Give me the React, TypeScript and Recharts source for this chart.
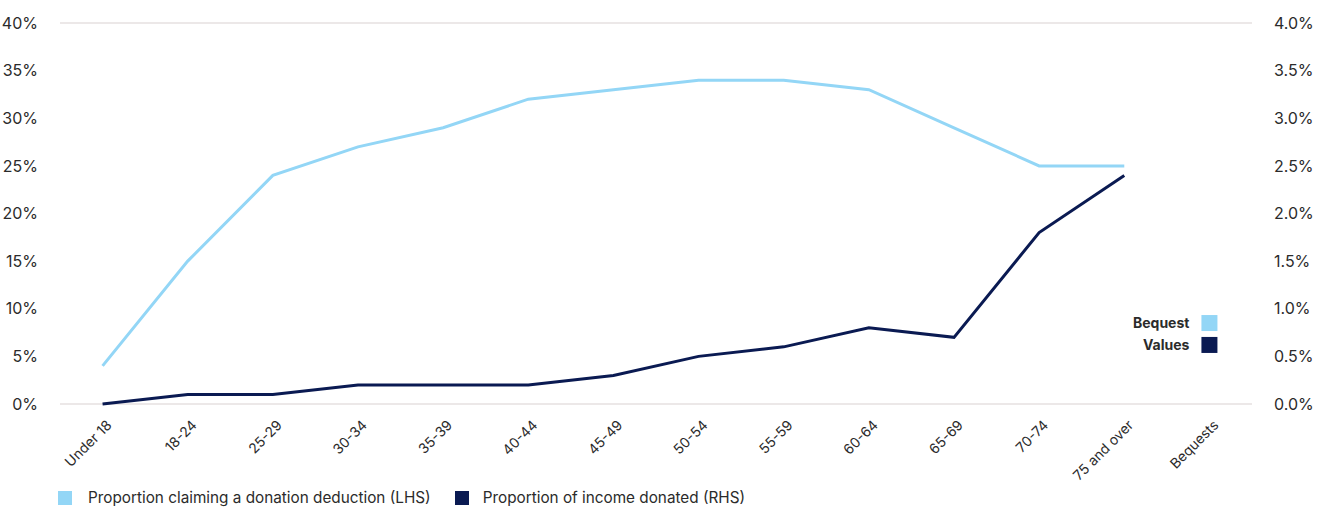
import {
  ComposedChart,
  Line,
  XAxis,
  YAxis,
  CartesianGrid,
  LabelList,
} from 'recharts';

const categories = [
  'Under 18', '18-24', '25-29', '30-34', '35-39', '40-44', '45-49',
  '50-54', '55-59', '60-64', '65-69', '70-74', '75 and over', 'Bequests',
];
// proportion claiming a donation deduction, % (LHS)
const claiming = [4, 15, 24, 27, 29, 32, 33, 34, 34, 33, 29, 25, 25, null];
// proportion of income donated, % (RHS)
const donated = [0, 0.1, 0.1, 0.2, 0.2, 0.2, 0.3, 0.5, 0.6, 0.8, 0.7, 1.8, 2.4, null];
// bequest values shown as squares at the last category
const bequestClaiming = 8.5;
const bequestDonated = 0.62;

const leftTicks = [0, 5, 10, 15, 20, 25, 30, 35, 40];
const rightTicks = [0, 0.5, 1, 1.5, 2, 2.5, 3, 3.5, 4];

const LIGHT = '#93d6f6';
const DARK = '#0a1a52';
const TEXT = '#2b2b2b';
const FONT = 'Inter, "Noto Sans", sans-serif';

const data = categories.map((name, i) => ({
  name,
  claiming: claiming[i],
  donated: donated[i],
  bqClaiming: name === 'Bequests' ? bequestClaiming : null,
  bqDonated: name === 'Bequests' ? bequestDonated : null,
}));

function XTick(props: any) {
  const { x, y, payload } = props;
  return (
    <text
      x={x + 10}
      y={y + 14}
      transform={`rotate(-45, ${x + 10}, ${y + 14})`}
      textAnchor="end"
      fill={TEXT}
      fontSize={14}
      fontFamily={FONT}
    >
      {payload.value}
    </text>
  );
}

function square(color: string) {
  return (p: any) =>
    p.value == null || p.cx == null || p.cy == null ? null : (
      <rect key={p.index} x={p.cx - 8} y={p.cy - 8} width={16} height={16} fill={color} />
    );
}

function bqLabel(text: string) {
  return (p: any) =>
    p.value == null ? null : (
      <text x={p.x - 20} y={p.y + 5} textAnchor="end" fontSize={14} fontWeight={700} fill={TEXT} fontFamily={FONT}>
        {text}
      </text>
    );
}

export default function App() {
  return (
    <div style={{ width: 1321, height: 507, position: 'relative', fontFamily: FONT }}>
      <style>{'body{margin:0}'}</style>
      <ComposedChart
        width={1321}
        height={507}
        data={data}
        margin={{ top: 23, right: 0, left: 0, bottom: 27 }}
      >
        <CartesianGrid vertical={false} stroke="#e6e1e1" strokeWidth={1.5} />
        <XAxis
          dataKey="name"
          scale="band"
          interval={0}
          axisLine={false}
          tickLine={false}
          height={76}
          tick={<XTick />}
        />
        <YAxis
          yAxisId="left"
          domain={[0, 40]}
          ticks={leftTicks}
          width={60}
          axisLine={false}
          tickLine={false}
          tickMargin={16}
          tickFormatter={(v: number) => `${v}%`}
          tick={{ fill: TEXT, fontSize: 16, fontFamily: FONT }}
        />
        <YAxis
          yAxisId="right"
          orientation="right"
          domain={[0, 4]}
          ticks={rightTicks}
          width={69}
          axisLine={false}
          tickLine={false}
          tickMargin={16}
          tickFormatter={(v: number) => `${v.toFixed(1)}%`}
          tick={{ fill: TEXT, fontSize: 16, fontFamily: FONT }}
        />
        <Line
          yAxisId="left"
          dataKey="claiming"
          stroke={LIGHT}
          strokeWidth={3}
          dot={false}
          type="linear"
          isAnimationActive={false}
        />
        <Line
          yAxisId="right"
          dataKey="donated"
          stroke={DARK}
          strokeWidth={3}
          dot={false}
          type="linear"
          isAnimationActive={false}
        />
        <Line
          yAxisId="left"
          dataKey="bqClaiming"
          stroke="none"
          dot={square(LIGHT)}
          activeDot={false}
          isAnimationActive={false}
        >
          <LabelList dataKey="bqClaiming" content={bqLabel('Bequest')} />
        </Line>
        <Line
          yAxisId="right"
          dataKey="bqDonated"
          stroke="none"
          dot={square(DARK)}
          activeDot={false}
          isAnimationActive={false}
        >
          <LabelList dataKey="bqDonated" content={bqLabel('Values')} />
        </Line>
      </ComposedChart>
      <div
        style={{
          position: 'absolute',
          left: 58,
          top: 488,
          display: 'flex',
          alignItems: 'center',
          fontSize: 15.3,
          color: TEXT,
        }}
      >
        <span style={{ width: 14, height: 14, background: LIGHT, display: 'inline-block', marginRight: 16 }} />
        <span style={{ marginRight: 24 }}>Proportion claiming a donation deduction (LHS)</span>
        <span style={{ width: 14, height: 14, background: DARK, display: 'inline-block', marginRight: 14 }} />
        <span>Proportion of income donated (RHS)</span>
      </div>
    </div>
  );
}
